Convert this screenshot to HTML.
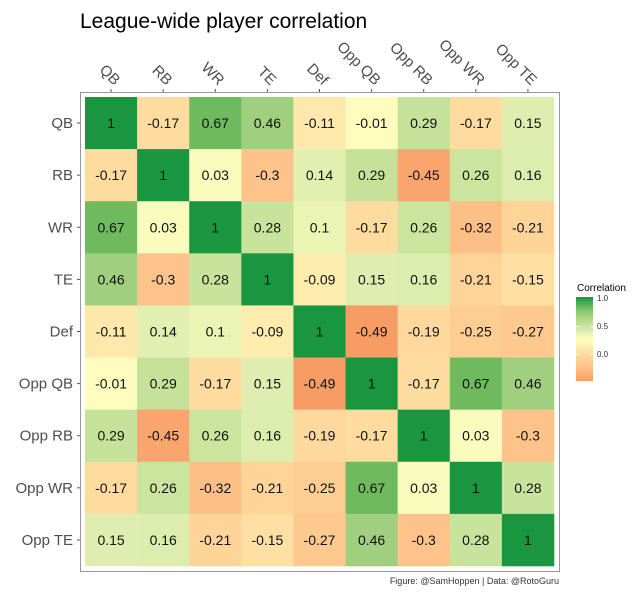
<!DOCTYPE html>
<html><head><meta charset="utf-8"><style>
body{margin:0;background:#fff;}
svg{display:block;font-family:"Liberation Sans",sans-serif;}
</style></head><body>
<svg id="s" width="637" height="600" xmlns="http://www.w3.org/2000/svg">
<rect width="637" height="600" fill="#fff"/>
<text x="80" y="28" font-size="21" fill="#000">League-wide player correlation</text>
<rect x="80.5" y="92.5" width="479" height="479" fill="#fff" stroke="#999" stroke-width="1"/>
<g id="g"></g>
<text x="577" y="291" font-size="10" fill="#000">Correlation</text>
<defs><linearGradient id="lg" x1="0" y1="1" x2="0" y2="0">
<stop offset="0" stop-color="#f69c64"/>
<stop offset="0.16" stop-color="#fdc38a"/>
<stop offset="0.33" stop-color="#fedca0"/>
<stop offset="0.49" stop-color="#ffffbf"/>
<stop offset="0.59" stop-color="#dfeeb0"/>
<stop offset="0.73" stop-color="#b4d98c"/>
<stop offset="0.83" stop-color="#8cc76f"/>
<stop offset="1" stop-color="#1a9641"/>
</linearGradient></defs>
<rect x="576" y="297" width="17" height="84" fill="url(#lg)"/>
<g stroke="#fff" stroke-width="1"><line x1="576" x2="579" y1="326.5" y2="326.5"/><line x1="590" x2="593" y1="326.5" y2="326.5"/><line x1="576" x2="579" y1="354.5" y2="354.5"/><line x1="590" x2="593" y1="354.5" y2="354.5"/></g>
<g font-size="8" fill="#333"><text x="597" y="301">1.0</text><text x="597" y="329">0.5</text><text x="597" y="357">0.0</text></g>
<text x="559" y="584" font-size="9" fill="#333" text-anchor="end">Figure: @SamHoppen | Data: @RotoGuru</text>
</svg>
<script>
var L=["QB","RB","WR","TE","Def","Opp QB","Opp RB","Opp WR","Opp TE"];
var M=[[1,-0.17,0.67,0.46,-0.11,-0.01,0.29,-0.17,0.15],
[-0.17,1,0.03,-0.3,0.14,0.29,-0.45,0.26,0.16],
[0.67,0.03,1,0.28,0.1,-0.17,0.26,-0.32,-0.21],
[0.46,-0.3,0.28,1,-0.09,0.15,0.16,-0.21,-0.15],
[-0.11,0.14,0.1,-0.09,1,-0.49,-0.19,-0.25,-0.27],
[-0.01,0.29,-0.17,0.15,-0.49,1,-0.17,0.67,0.46],
[0.29,-0.45,0.26,0.16,-0.19,-0.17,1,0.03,-0.3],
[-0.17,0.26,-0.32,-0.21,-0.25,0.67,0.03,1,0.28],
[0.15,0.16,-0.21,-0.15,-0.27,0.46,-0.3,0.28,1]];
var S=[[-0.49,[246,156,100]],[-0.45,[249,165,109]],[-0.3,[253,195,138]],[-0.17,[254,220,160]],[0,[255,255,191]],[0.15,[223,238,176]],[0.29,[198,226,154]],[0.46,[160,207,127]],[0.67,[111,185,94]],[1,[26,150,65]]];
function col(v){for(var i=0;i<S.length-1;i++){var a=S[i],b=S[i+1];if(v<=b[0]){var t=(v-a[0])/(b[0]-a[0]);return "rgb("+[0,1,2].map(function(k){return Math.round(a[1][k]+(b[1][k]-a[1][k])*t)}).join(",")+")";}}return "rgb(26,150,65)";}
var h="",x0=85,y0=97,w=52.11;
for(var r=0;r<9;r++)for(var c=0;c<9;c++){var v=M[r][c],x=x0+c*w,y=y0+r*w;
h+='<rect x="'+x.toFixed(2)+'" y="'+y.toFixed(2)+'" width="'+(w+0.3).toFixed(2)+'" height="'+(w+0.3).toFixed(2)+'" fill="'+col(v)+'"/>';
h+='<text x="'+(x+w/2).toFixed(1)+'" y="'+(y+w/2+5).toFixed(1)+'" font-size="14" text-anchor="middle" fill="#111">'+v+'</text>';}
for(var i=0;i<9;i++){var cx=x0+i*w+w/2,cy=y0+i*w+w/2;
h+='<line x1="'+cx+'" x2="'+cx+'" y1="89" y2="92" stroke="#555"/>';
h+='<text transform="translate('+(cx+3)+',86) rotate(45)" font-size="15" fill="#4d4d4d" text-anchor="end">'+L[i]+'</text>';
h+='<line x1="77" x2="80" y1="'+cy+'" y2="'+cy+'" stroke="#555"/>';
h+='<text x="73" y="'+(cy+5)+'" font-size="15" fill="#4d4d4d" text-anchor="end">'+L[i]+'</text>';}
document.getElementById("g").innerHTML=h;
</script>
</body></html>
